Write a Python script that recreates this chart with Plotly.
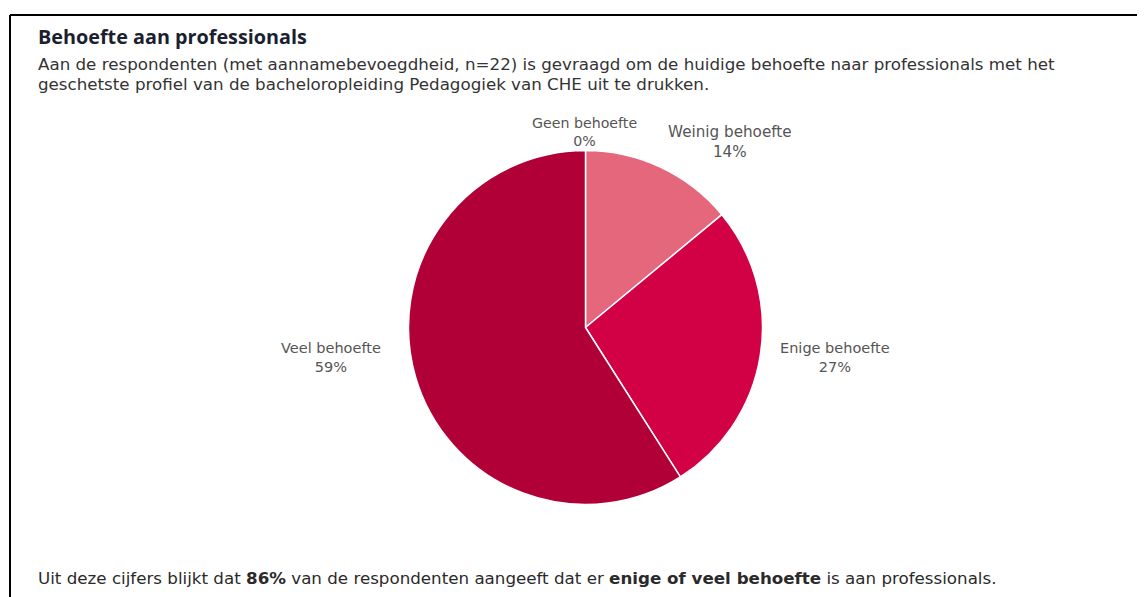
import plotly.graph_objects as go

categories = ["Geen behoefte", "Weinig behoefte", "Enige behoefte", "Veel behoefte"]
percentages = [0, 14, 27, 59]
colors = ["#C8002F", "#E4677B", "#D20044", "#B10038"]

title_text = "Behoefte aan professionals"
intro_lines = [
    "Aan de respondenten (met aannamebevoegdheid, n=22) is gevraagd om de huidige behoefte naar professionals met het",
    "geschetste profiel van de bacheloropleiding Pedagogiek van CHE uit te drukken.",
]
conclusion = ("Uit deze cijfers blijkt dat <b>86%</b> van de respondenten aangeeft dat er "
              "<b>enige of veel behoefte</b> is aan professionals.")

W, H = 1145, 597
OFF = 8  # page body margin


def px(x):
    return (x - OFF) / W


def py(y):
    return 1 - (y - OFF) / H


# pie geometry (page pixels)
cx, cy, r = 585.5, 327.5, 177

fig = go.Figure()
fig.add_trace(go.Pie(
    labels=categories,
    values=percentages,
    sort=False,
    direction="clockwise",
    rotation=0,
    textinfo="none",
    hoverinfo="label+percent",
    marker=dict(colors=colors, line=dict(color="white", width=1.5)),
    domain=dict(x=[px(cx - r), px(cx + r)], y=[py(cy + r), py(cy - r)]),
    showlegend=False,
))

# label positions (page pixel centers) and sizes
label_pos = [(584, 132), (730, 142), (835, 357), (331, 357)]
label_sizes = [14.2, 15.2, 14.5, 14.5]
annotations = []
for cat, pct, (lx, ly), fs in zip(categories, percentages, label_pos, label_sizes):
    annotations.append(dict(
        x=px(lx), y=py(ly), xref="paper", yref="paper",
        text=f"{cat}<br>{pct}%", showarrow=False, align="center",
        xanchor="center", yanchor="middle",
        font=dict(family="DejaVu Sans", size=fs, color="#555555"),
    ))

annotations.append(dict(
    x=px(36), y=py(36), xref="paper", yref="paper", text=f"<b>{title_text}</b>",
    showarrow=False, xanchor="left", yanchor="middle",
    font=dict(family="Open Sans", size=19.8, color="#1b1f30"),
))
for i, line in enumerate(intro_lines):
    annotations.append(dict(
        x=px(36), y=py(64 + 20 * i), xref="paper", yref="paper", text=line,
        showarrow=False, xanchor="left", yanchor="middle",
        font=dict(family="DejaVu Sans", size=16.7, color="#333333"),
    ))
annotations.append(dict(
    x=px(36), y=py(578), xref="paper", yref="paper", text=conclusion,
    showarrow=False, xanchor="left", yanchor="middle",
    font=dict(family="DejaVu Sans", size=16.7, color="#2a2a2a"),
))

shapes = [
    dict(type="line", xref="paper", yref="paper", x0=px(10), x1=1, y0=py(15), y1=py(15),
         line=dict(color="black", width=2)),
    dict(type="line", xref="paper", yref="paper", x0=px(10), x1=px(10), y0=0, y1=py(15),
         line=dict(color="black", width=2)),
]

fig.update_layout(
    width=W, height=H,
    margin=dict(l=0, r=0, t=0, b=0),
    paper_bgcolor="white", plot_bgcolor="white",
    annotations=annotations, shapes=shapes,
)

fig.write_html("out.html")
